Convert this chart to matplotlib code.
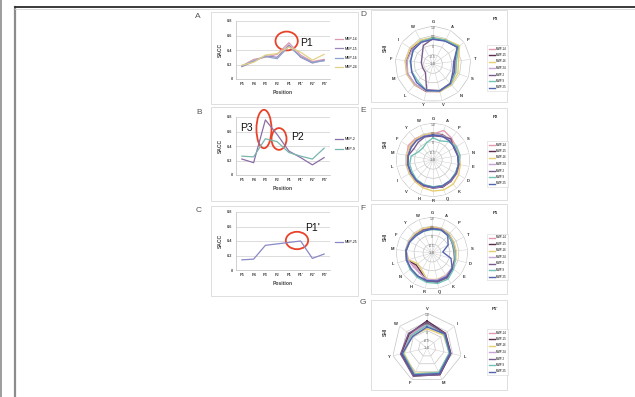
import matplotlib
matplotlib.use('Agg')
import matplotlib.pyplot as plt
import numpy as np
from matplotlib.patches import Ellipse, Rectangle

plt.rcParams['font.family'] = ['Liberation Sans', 'DejaVu Sans']

# ---------------- data ----------------
positions = ["P5", "P4", "P3", "P2", "P1", "P1'", "P2'", "P3'"]
y_ticks = [0, 0.2, 0.4, 0.6, 0.8]

a_names = ["MMP-14", "MMP-15", "MMP-16", "MMP-24"]
a_mmp14 = [0.18, 0.27, 0.30, 0.34, 0.50, 0.33, 0.24, 0.27]
a_mmp15 = [0.17, 0.24, 0.32, 0.30, 0.47, 0.30, 0.22, 0.26]
a_mmp16 = [0.18, 0.25, 0.31, 0.28, 0.45, 0.31, 0.23, 0.25]
a_mmp24 = [0.19, 0.23, 0.33, 0.35, 0.44, 0.37, 0.26, 0.34]

b_names = ["MMP-2", "MMP-9"]
b_mmp2 = [0.22, 0.17, 0.76, 0.56, 0.33, 0.24, 0.14, 0.24]
b_mmp9 = [0.26, 0.25, 0.50, 0.46, 0.31, 0.26, 0.22, 0.37]

c_names = ["MMP-25"]
c_mmp25 = [0.14, 0.15, 0.34, 0.36, 0.38, 0.40, 0.16, 0.22]

radar_names = ["MMP-14", "MMP-15", "MMP-16", "MMP-24", "MMP-2", "MMP-9", "MMP-25"]
radar_levels = [-0.5, 0.0, 0.5, 1.0]
radar_level_labels = ["-0.5", "0", "0.5", "1.0"]

d_axes = ["G", "A", "P", "T", "S", "N", "V", "Y", "L", "M", "F", "I", "W"]
d_mmp14 = [0.30, 0.42, 0.66, 0.22, 0.26, 0.42, 0.50, 0.50, 0.45, 0.46, 0.42, 0.35, 0.30]
d_mmp15 = [0.36, 0.40, 0.60, 0.18, 0.22, 0.40, 0.48, 0.48, 0.44, 0.44, 0.40, 0.38, 0.34]
d_mmp16 = [0.40, 0.45, 0.70, 0.35, 0.40, 0.45, 0.50, 0.46, 0.46, 0.48, 0.46, 0.45, 0.42]
d_mmp24 = [0.32, 0.38, 0.58, 0.20, 0.24, 0.38, 0.46, 0.46, 0.42, 0.42, 0.38, 0.34, 0.30]
d_mmp2 = [0.34, 0.40, 0.55, 0.16, 0.20, 0.36, 0.44, 0.40, -0.40, -0.42, -0.38, -0.30, 0.10]
d_mmp9 = [0.38, 0.42, 0.62, 0.24, 0.28, 0.40, 0.46, 0.44, 0.20, 0.18, 0.22, 0.25, 0.34]
d_mmp25 = [0.30, 0.36, 0.56, 0.10, 0.12, 0.38, 0.46, 0.44, 0.30, 0.20, 0.18, 0.28, 0.30]

e_axes = ["G", "A", "P", "S", "N", "E", "D", "K", "Q", "R", "H", "V", "I", "L", "M", "F", "Y", "W"]
e_mmp14 = [0.40, 0.70, 0.55, 0.42, 0.40, 0.45, 0.48, 0.52, 0.55, 0.50, 0.52, 0.50, 0.45, 0.44, 0.42, 0.55, 0.50, 0.42]
e_mmp15 = [0.42, 0.45, 0.42, 0.38, 0.38, 0.42, 0.45, 0.50, 0.55, 0.52, 0.48, 0.46, 0.42, 0.42, 0.40, 0.40, 0.42, 0.40]
e_mmp16 = [0.45, 0.40, 0.44, 0.40, 0.42, 0.50, 0.60, 0.70, 0.72, 0.68, 0.60, 0.52, 0.46, 0.44, 0.44, 0.45, 0.46, 0.44]
e_mmp24 = [0.40, 0.42, 0.40, 0.36, 0.36, 0.40, 0.44, 0.48, 0.52, 0.50, 0.46, 0.44, 0.40, 0.40, 0.38, 0.38, 0.40, 0.38]
e_mmp2 = [0.30, 0.35, 0.50, 0.30, 0.35, 0.40, 0.42, 0.45, 0.48, 0.46, 0.44, 0.40, 0.38, 0.38, 0.36, 0.20, 0.25, 0.32]
e_mmp9 = [0.20, 0.10, 0.30, 0.45, 0.48, 0.40, 0.40, 0.45, 0.48, 0.45, 0.42, 0.38, 0.30, 0.28, 0.20, -0.10, -0.15, 0.00]
e_mmp25 = [0.35, 0.38, 0.36, 0.34, 0.36, 0.40, 0.44, 0.46, 0.50, 0.48, 0.45, 0.42, 0.38, 0.38, 0.36, 0.36, 0.38, 0.36]

f_axes = ["G", "A", "P", "T", "S", "D", "E", "K", "Q", "R", "H", "N", "L", "M", "F", "Y", "W"]
f_mmp14 = [0.42, 0.45, 0.40, 0.35, 0.30, 0.35, 0.40, 0.50, 0.55, 0.52, 0.30, 0.20, 0.40, 0.45, 0.42, 0.40, 0.40]
f_mmp15 = [0.40, 0.42, 0.38, 0.30, 0.28, 0.32, 0.45, 0.60, 0.62, 0.58, 0.20, 0.10, 0.42, 0.46, 0.40, 0.38, 0.38]
f_mmp16 = [0.45, 0.44, 0.42, 0.36, 0.35, 0.38, 0.40, 0.45, 0.50, 0.48, 0.10, 0.00, 0.35, 0.44, 0.44, 0.42, 0.44]
f_mmp24 = [0.38, 0.40, 0.36, 0.30, 0.26, 0.32, 0.38, 0.48, 0.52, 0.50, 0.32, 0.28, 0.40, 0.44, 0.40, 0.36, 0.36]
f_mmp2 = [0.36, 0.40, 0.35, 0.25, 0.22, 0.30, 0.42, 0.62, 0.65, 0.60, 0.55, 0.50, 0.48, 0.46, 0.40, 0.36, 0.36]
f_mmp9 = [0.30, 0.36, 0.34, 0.28, 0.25, 0.34, 0.50, 0.70, 0.72, 0.66, 0.58, 0.52, 0.46, 0.44, 0.38, 0.32, 0.30]
f_mmp25 = [0.34, 0.38, 0.30, 0.00, -0.40, 0.10, 0.40, 0.55, 0.58, 0.56, 0.50, 0.45, 0.46, 0.44, 0.38, 0.30, 0.30]

g_axes = ["V", "I", "L", "M", "F", "Y", "W"]
g_mmp14 = [0.40, 0.30, 0.35, 0.65, 0.70, 0.45, 0.25]
g_mmp15 = [0.55, 0.35, 0.40, 0.70, 0.75, 0.50, 0.30]
g_mmp16 = [0.10, 0.20, 0.30, 0.55, 0.60, 0.35, 0.10]
g_mmp24 = [0.35, 0.28, 0.32, 0.60, 0.68, 0.42, 0.20]
g_mmp2 = [0.45, 0.32, 0.38, 0.68, 0.80, 0.55, 0.35]
g_mmp9 = [0.30, 0.25, 0.30, 0.55, 0.65, 0.40, 0.15]
g_mmp25 = [0.20, 0.30, 0.35, 0.62, 0.70, 0.45, 0.05]

# ---------------- styling ----------------
line_colors_a = ["#dc9aac", "#9c86bc", "#8ea2cc", "#e2d286"]
line_colors_b = ["#8c6ea6", "#78b6ae"]
line_colors_c = ["#8a88c6"]
radar_colors = ["#e39aae", "#5a2f4e", "#e6cf70", "#c7a3d6", "#7a5c8c", "#74c2b6", "#5564b0"]

W, H = 635, 397
fig = plt.figure(figsize=(W / 100, H / 100), dpi=100)
fig.patch.set_facecolor("white")


def ax_px(x0, y0, x1, y1, **kw):
    return fig.add_axes([x0 / W, 1 - y1 / H, (x1 - x0) / W, (y1 - y0) / H], **kw)


bg = ax_px(0, 0, W, H)
bg.set_xlim(0, W)
bg.set_ylim(H, 0)
bg.axis("off")

# page frame
bg.plot([0.8, 0.8], [0, H], color="#8c8c8c", lw=1.2)
bg.plot([15, 15], [7, H], color="#8c8c8c", lw=1.6)
bg.plot([15, W], [7.4, 7.4], color="#2b2b2b", lw=1.3)
bg.plot([15, W], [9.0, 9.0], color="#d6d6d6", lw=0.6)

# panel boxes
boxes = {"A": (211, 12, 358, 104), "B": (211, 107, 358, 201), "C": (211, 206, 358, 296),
         "D": (371, 10, 507, 102), "E": (371, 108, 507, 200), "F": (371, 204, 507, 294),
         "G": (371, 300, 507, 390)}
label_pos = {"A": (198, 16), "B": (199, 112), "C": (199, 210),
             "D": (363, 14), "E": (363, 111), "F": (363, 208), "G": (363, 302)}
for k, (x0, y0, x1, y1) in boxes.items():
    bg.add_patch(Rectangle((x0, y0), x1 - x0, y1 - y0, fill=False, ec="#d9d9d9", lw=0.6))
    bg.text(*label_pos[k], k, fontsize=6, color="#555555", ha="center", va="center")


def line_panel(y_top, y_bot, series, names, colors, leg_y):
    ax = ax_px(236, y_top, 330, y_bot)
    x = np.arange(len(positions))
    for s, n, c in zip(series, names, colors):
        ax.plot(x, s, color=c, lw=0.9, label=n)
    ax.set_xlim(-0.5, len(positions) - 0.5)
    ax.set_ylim(0, 0.8)
    ax.set_yticks(y_ticks)
    ax.set_yticklabels(["0"] + [f"{v:.1f}" for v in y_ticks[1:]], fontsize=2.8,
                       fontweight="bold", color="#444444")
    ax.set_xticks(x)
    ax.set_xticklabels(positions, fontsize=2.8, fontweight="bold", color="#444444")
    ax.tick_params(length=0, pad=2.5)
    ax.grid(axis="y", color="#cfcfcf", lw=0.5)
    ax.set_axisbelow(True)
    for sp in ["top", "right"]:
        ax.spines[sp].set_visible(False)
    for sp in ["left", "bottom"]:
        ax.spines[sp].set_color("#bdbdbd")
        ax.spines[sp].set_linewidth(0.5)
    ax.set_xlabel("Position", fontsize=3.6, fontweight="bold", color="#444444", labelpad=2.5)
    ax.set_ylabel("SACC", fontsize=3.6, fontweight="bold", color="#444444", labelpad=3)
    ax.legend(loc="upper left", bbox_to_anchor=(333 / W, 1 - leg_y / H),
              bbox_transform=fig.transFigure, fontsize=2.4, frameon=False,
              handlelength=2.2, labelspacing=1.6, borderpad=0.2, handletextpad=0.6)
    return ax


axA = line_panel(21, 79, [a_mmp14, a_mmp15, a_mmp16, a_mmp24], a_names, line_colors_a, 35)
axB = line_panel(117, 175, [b_mmp2, b_mmp9], b_names, line_colors_b, 135)
axC = line_panel(212, 270, [c_mmp25], c_names, line_colors_c, 238)

red = "#e8432a"
axA.add_patch(Ellipse((3.81, 0.524), 1.9, 0.26, fill=False, ec=red, lw=1.3, clip_on=False))
axA.text(4.95, 0.50, "P1", fontsize=7.5, va="center", ha="left", color="#111111")
axB.add_patch(Ellipse((1.88, 0.634), 1.28, 0.53, fill=False, ec=red, lw=1.3, clip_on=False))
axB.add_patch(Ellipse((3.16, 0.497), 1.28, 0.30, fill=False, ec=red, lw=1.3, clip_on=False))
axB.text(-0.15, 0.65, "P3", fontsize=7.5, va="center", ha="left", color="#111111")
axB.text(4.15, 0.53, "P2", fontsize=7.5, va="center", ha="left", color="#111111")
axC.add_patch(Ellipse((4.69, 0.407), 1.9, 0.24, fill=False, ec=red, lw=1.3, clip_on=False))
axC.text(5.37, 0.58, "P1'", fontsize=7.5, va="center", ha="left", color="#111111")


def radar_panel(cx, cy, r, labels, series, title, box):
    ax = ax_px(cx - r, cy - r, cx + r, cy + r, projection="polar")
    ax.set_facecolor("none")
    n = len(labels)
    th = np.linspace(0, 2 * np.pi, n, endpoint=False)
    thc = np.append(th, th[0])
    ax.set_theta_zero_location("N")
    ax.set_theta_direction(-1)
    ax.set_ylim(-1, 1)
    ax.grid(False)
    ax.spines["polar"].set_visible(False)
    for lv in radar_levels:
        ax.plot(thc, [lv] * (n + 1), color="#c4c4c4", lw=0.5, zorder=1)
    for t in th:
        ax.plot([t, t], [-1, 1], color="#d2d2d2", lw=0.4, zorder=1)
    for s, nm, c in zip(series, radar_names, radar_colors):
        ax.plot(thc, list(s) + [s[0]], color=c, lw=1.0, label=nm, zorder=3)
    ax.set_xticks(th)
    ax.set_xticklabels(labels, fontsize=3.0, fontweight="bold", color="#333333")
    ax.tick_params(axis="x", pad=-7.5)
    ax.set_yticks([])
    for lv, lb in zip(radar_levels, radar_level_labels):
        ax.text(0, lv, lb, fontsize=2.4, color="#555555", ha="center", va="top", zorder=4)
    ax.text(0, -1, "-1.0", fontsize=2.4, color="#555555", ha="center", va="center", zorder=4)
    x0, y0, x1, y1 = box
    bg.text(x1 - 12, y0 + 10, title, fontsize=3.2, fontweight="bold", color="#333333", ha="center")
    bg.text(385, cy - 16, "SHI", fontsize=3.6, fontweight="bold", color="#444444",
            rotation=90, ha="center", va="center")
    ax.legend(loc="upper left", bbox_to_anchor=(486 / W, 1 - (cy - 20) / H),
              bbox_transform=fig.transFigure, fontsize=2.0, frameon=True,
              edgecolor="#cccccc", fancybox=False, handlelength=2.2,
              labelspacing=0.9, borderpad=0.4, handletextpad=0.5).get_frame().set_linewidth(0.4)
    return ax


radar_panel(433, 64, 38, d_axes, [d_mmp14, d_mmp15, d_mmp16, d_mmp24, d_mmp2, d_mmp9, d_mmp25],
            "P3", boxes["D"])
radar_panel(433, 160, 37, e_axes, [e_mmp14, e_mmp15, e_mmp16, e_mmp24, e_mmp2, e_mmp9, e_mmp25],
            "P2", boxes["E"])
radar_panel(432, 253, 36, f_axes, [f_mmp14, f_mmp15, f_mmp16, f_mmp24, f_mmp2, f_mmp9, f_mmp25],
            "P1", boxes["F"])
radar_panel(427, 348, 35, g_axes, [g_mmp14, g_mmp15, g_mmp16, g_mmp24, g_mmp2, g_mmp9, g_mmp25],
            "P1'", boxes["G"])

fig.savefig("out.png", dpi=100, facecolor="white")
